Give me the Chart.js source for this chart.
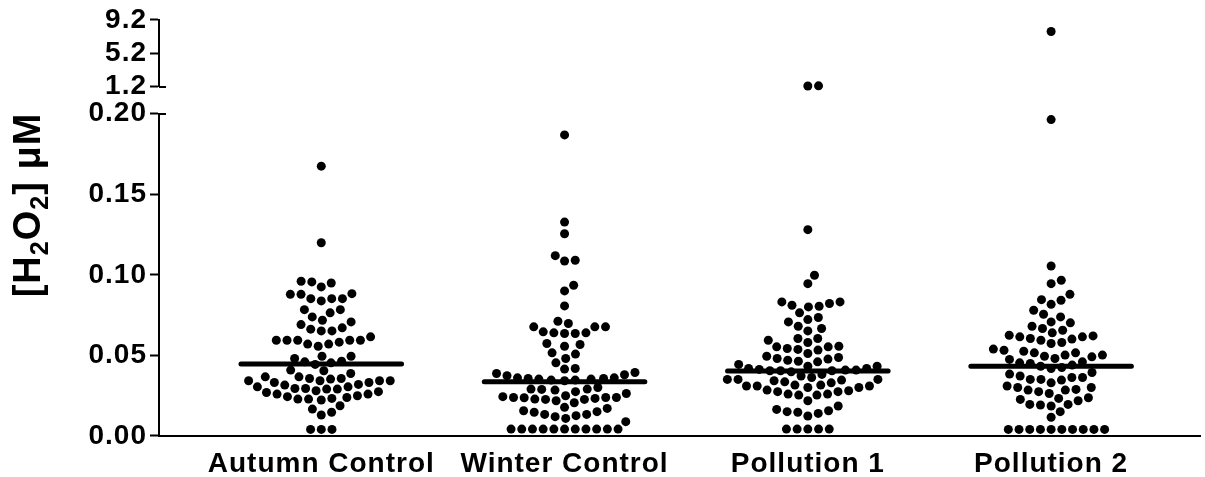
<!DOCTYPE html>
<html>
<head>
<meta charset="utf-8">
<script src="https://cdn.jsdelivr.net/npm/chart.js@4.4.1/dist/chart.umd.min.js"></script>
<style>
  html, body { margin: 0; padding: 0; background: #fff; }
  #wrap { width: 1205px; height: 477px; position: relative; }
</style>
</head>
<body>
<div id="wrap"><canvas id="chart"></canvas></div>
<script>
const categories = ["Autumn Control", "Winter Control", "Pollution 1", "Pollution 2"];

// [H2O2] in µM (values above 0.2 sit on the upper segment)
const autumnControl = [
    0.1674, 0.1199, 0.0960, 0.0949, 0.0925, 0.0956, 0.0852, 0.0879, 0.0852, 0.0879,
    0.0838, 0.0883, 0.0852, 0.0784, 0.0764, 0.0784, 0.0708, 0.0718, 0.0739, 0.0671,
    0.0652, 0.0652, 0.0663, 0.0691, 0.0594, 0.0594, 0.0594, 0.0570, 0.0557, 0.0570,
    0.0582, 0.0594, 0.0594, 0.0615, 0.0495, 0.0464, 0.0454, 0.0444, 0.0460, 0.0481,
    0.0495, 0.0405, 0.0409, 0.0367, 0.0357, 0.0353, 0.0357, 0.0367, 0.0388, 0.0343,
    0.0343, 0.0332, 0.0320, 0.0305, 0.0295, 0.0291, 0.0291, 0.0295, 0.0305, 0.0316,
    0.0332, 0.0343, 0.0343, 0.0270, 0.0260, 0.0250, 0.0239, 0.0229, 0.0223, 0.0229,
    0.0233, 0.0244, 0.0260, 0.0275, 0.0281, 0.0188, 0.0147, 0.0130, 0.0167, 0.0041,
    0.0041, 0.0041
];
const winterControl = [
    0.1868, 0.1327, 0.1255, 0.1090, 0.1086, 0.1119, 0.0900, 0.0935, 0.0807, 0.0712,
    0.0677, 0.0677, 0.0640, 0.0636, 0.0636, 0.0640, 0.0646, 0.0677, 0.0698, 0.0574,
    0.0557, 0.0568, 0.0508, 0.0516, 0.0481, 0.0454, 0.0419, 0.0415, 0.0394, 0.0380,
    0.0361, 0.0357, 0.0353, 0.0347, 0.0343, 0.0347, 0.0353, 0.0357, 0.0361, 0.0374,
    0.0388, 0.0291, 0.0291, 0.0275, 0.0264, 0.0285, 0.0289, 0.0301, 0.0244, 0.0239,
    0.0237, 0.0227, 0.0219, 0.0206, 0.0227, 0.0229, 0.0233, 0.0239, 0.0239, 0.0250,
    0.0171, 0.0151, 0.0134, 0.0126, 0.0120, 0.0134, 0.0147, 0.0157, 0.0178, 0.0109,
    0.0089, 0.0043, 0.0043, 0.0043, 0.0043, 0.0043, 0.0043, 0.0043, 0.0043, 0.0043,
    0.0043, 0.0043
];
const pollution1 = [
    1.30, 1.28, 0.1280, 0.0997, 0.0945, 0.0832, 0.0811, 0.0801, 0.0805, 0.0822,
    0.0832, 0.0764, 0.0735, 0.0722, 0.0708, 0.0681, 0.0652, 0.0667, 0.0605, 0.0594,
    0.0580, 0.0605, 0.0557, 0.0553, 0.0537, 0.0512, 0.0533, 0.0543, 0.0553, 0.0487,
    0.0477, 0.0464, 0.0444, 0.0433, 0.0460, 0.0470, 0.0481, 0.0495, 0.0419, 0.0409,
    0.0405, 0.0398, 0.0419, 0.0405, 0.0405, 0.0409, 0.0413, 0.0433, 0.0382, 0.0363,
    0.0372, 0.0351, 0.0347, 0.0336, 0.0343, 0.0351, 0.0351, 0.0316, 0.0310, 0.0310,
    0.0301, 0.0285, 0.0301, 0.0310, 0.0316, 0.0330, 0.0275, 0.0260, 0.0254, 0.0254,
    0.0260, 0.0275, 0.0281, 0.0219, 0.0165, 0.0151, 0.0140, 0.0124, 0.0147, 0.0157,
    0.0186, 0.0043, 0.0043, 0.0043, 0.0043, 0.0043
];
const pollution2 = [
    7.8, 0.1963, 0.1055, 0.0966, 0.0945, 0.0879, 0.0842, 0.0846, 0.0817, 0.0780,
    0.0755, 0.0739, 0.0702, 0.0708, 0.0681, 0.0667, 0.0640, 0.0656, 0.0621, 0.0615,
    0.0601, 0.0580, 0.0574, 0.0594, 0.0605, 0.0615, 0.0625, 0.0532, 0.0516, 0.0502,
    0.0495, 0.0481, 0.0491, 0.0502, 0.0516, 0.0526, 0.0539, 0.0475, 0.0454, 0.0440,
    0.0425, 0.0419, 0.0433, 0.0450, 0.0460, 0.0384, 0.0363, 0.0351, 0.0347, 0.0351,
    0.0363, 0.0372, 0.0394, 0.0310, 0.0301, 0.0285, 0.0275, 0.0264, 0.0285, 0.0289,
    0.0301, 0.0330, 0.0233, 0.0219, 0.0196, 0.0186, 0.0192, 0.0196, 0.0227, 0.0237,
    0.0151, 0.0116, 0.0041, 0.0041, 0.0041, 0.0041, 0.0041, 0.0041, 0.0041, 0.0041,
    0.0041, 0.0041
];
const medians = [0.0446, 0.0336, 0.0404, 0.0433];

const lowTicks = [0, 0.05, 0.10, 0.15, 0.20];
const highTicks = [1.2, 5.2, 9.2];
const breakValue = 0.2;

const groups = [autumnControl, winterControl, pollution1, pollution2];
const tickFont = { family: "'Liberation Sans', Arial, sans-serif", size: 28, weight: "bold" };
const spacing = "1px";

function pointsFor(upper) {
    const pts = [];
    groups.forEach((vals, g) => {
        vals.forEach(v => {
            if ((v > breakValue) === upper) pts.push({ x: g, y: v, g });
        });
    });
    return pts;
}

const medianPoints = [];
medians.forEach((m, i) => {
    medianPoints.push({ x: i - 0.33, y: m }, { x: i + 0.33, y: m }, { x: i + 0.5, y: null });
});

const dotStyle = {
    type: "scatter",
    backgroundColor: "#000",
    borderWidth: 0,
    pointRadius: 4.5,
    pointHoverRadius: 4.5,
    clip: false,
    order: 1
};

// break marks, letter spacing and the y title with subscripts
const decorations = {
    id: "decorations",
    beforeLayout(chart) { chart.ctx.letterSpacing = spacing; },
    beforeDraw(chart) { chart.ctx.letterSpacing = spacing; },
    afterDraw(chart) {
        const ctx = chart.ctx;
        const left = chart.chartArea.left;
        ctx.save();
        ctx.strokeStyle = "#000";
        ctx.lineWidth = 2;
        [[chart.scales.yHigh, highTicks[0]], [chart.scales.yLow, lowTicks[lowTicks.length - 1]]].forEach(([s, v]) => {
            const y = Math.round(s.getPixelForValue(v));
            ctx.beginPath();
            ctx.moveTo(left, y);
            ctx.lineTo(left + 7, y);
            ctx.stroke();
        });

        const parts = [
            { t: "[H" }, { t: "2", sub: true }, { t: "O" }, { t: "2", sub: true }, { t: "] \u03bcM" }
        ];
        const big = "bold 38px 'Liberation Sans', Arial, sans-serif";
        const small = "bold 25px 'Liberation Sans', Arial, sans-serif";
        ctx.letterSpacing = "1px";
        let total = 0;
        parts.forEach(p => {
            ctx.font = p.sub ? small : big;
            p.w = ctx.measureText(p.t).width;
            total += p.w;
        });
        ctx.translate(40, 205);
        ctx.rotate(-Math.PI / 2);
        ctx.fillStyle = "#000";
        ctx.textBaseline = "alphabetic";
        let x = -total / 2;
        parts.forEach(p => {
            ctx.font = p.sub ? small : big;
            ctx.fillText(p.t, x, p.sub ? 8 : 0);
            x += p.w;
        });
        ctx.restore();
    }
};

const yCommon = {
    type: "linear",
    position: "left",
    stack: "y",
    ticks: { color: "#000", font: tickFont, padding: 3, autoSkip: false },
    grid: { drawOnChartArea: false, tickLength: 9, tickWidth: 2, color: "#000" },
    border: { color: "#000", width: 2 },
    afterFit: s => { s.width = 159; }
};

const chart = new Chart(document.getElementById("chart"), {
    data: {
        datasets: [
            { ...dotStyle, data: pointsFor(false), yAxisID: "yLow" },
            { ...dotStyle, data: pointsFor(true), yAxisID: "yHigh" },
            {
                type: "line",
                data: medianPoints,
                yAxisID: "yLow",
                borderColor: "#000",
                borderWidth: 5,
                borderCapStyle: "round",
                pointRadius: 0,
                spanGaps: false,
                clip: false,
                order: 0
            }
        ]
    },
    options: {
        responsive: true,
        maintainAspectRatio: false,
        animation: false,
        devicePixelRatio: 1,
        layout: { padding: { top: 19, right: 0, bottom: 0, left: 0 } },
        plugins: { legend: { display: false }, tooltip: { enabled: false } },
        scales: {
            x: {
                type: "linear",
                min: -0.667,
                max: 3.614,
                afterBuildTicks: s => { s.ticks = categories.map((c, i) => ({ value: i })); },
                ticks: {
                    color: "#000",
                    font: tickFont,
                    padding: 11,
                    autoSkip: false,
                    maxRotation: 0,
                    callback: v => categories[v]
                },
                grid: { display: false, drawTicks: false },
                border: { color: "#000", width: 2 },
                afterFit: s => { s.height = 41; }
            },
            yLow: {
                ...yCommon,
                stackWeight: 323,
                min: 0,
                max: 0.2,
                afterBuildTicks: s => { s.ticks = lowTicks.map(v => ({ value: v })); },
                ticks: { ...yCommon.ticks, callback: v => v.toFixed(2) }
            },
            ySpacer: {
                type: "linear",
                position: "left",
                stack: "y",
                stackWeight: 27,
                display: false
            },
            yHigh: {
                ...yCommon,
                stackWeight: 67,
                min: 1.2,
                max: 9.2,
                afterBuildTicks: s => { s.ticks = highTicks.map(v => ({ value: v })); },
                ticks: { ...yCommon.ticks, callback: v => v.toFixed(1) }
            }
        }
    },
    plugins: [decorations]
});

// beeswarm: push each dot sideways until it no longer touches the ones already placed
function swarm(ys, d) {
    const order = ys.map((y, i) => i).sort((a, b) => ys[b] - ys[a]);
    const placed = [];
    const out = new Array(ys.length);
    order.forEach(i => {
        const y = ys[i];
        const near = placed.filter(p => Math.abs(p.y - y) < d);
        const cands = [0];
        near.forEach(p => {
            const dx = Math.sqrt(d * d - (p.y - y) * (p.y - y));
            cands.push(p.x + dx, p.x - dx);
        });
        cands.sort((a, b) => Math.abs(a) - Math.abs(b) || b - a);
        const x = cands.find(c => near.every(p => (p.x - c) ** 2 + (p.y - y) ** 2 >= d * d - 0.01));
        placed.push({ x, y });
        out[i] = x;
    });
    return out;
}

function layoutSwarm() {
    const xs = chart.scales.x;
    const unit = xs.getPixelForValue(1) - xs.getPixelForValue(0);
    const sets = [chart.data.datasets[0], chart.data.datasets[1]];
    groups.forEach((vals, g) => {
        const pts = [];
        sets.forEach(ds => {
            const scale = chart.scales[ds.yAxisID];
            ds.data.forEach(p => { if (p.g === g) pts.push({ p, py: scale.getPixelForValue(p.y) }); });
        });
        const offs = swarm(pts.map(o => o.py), 10.7);
        pts.forEach((o, i) => { o.p.x = g + offs[i] / unit; });
    });
    chart.update("none");
}
layoutSwarm();
</script>
</body>
</html>
